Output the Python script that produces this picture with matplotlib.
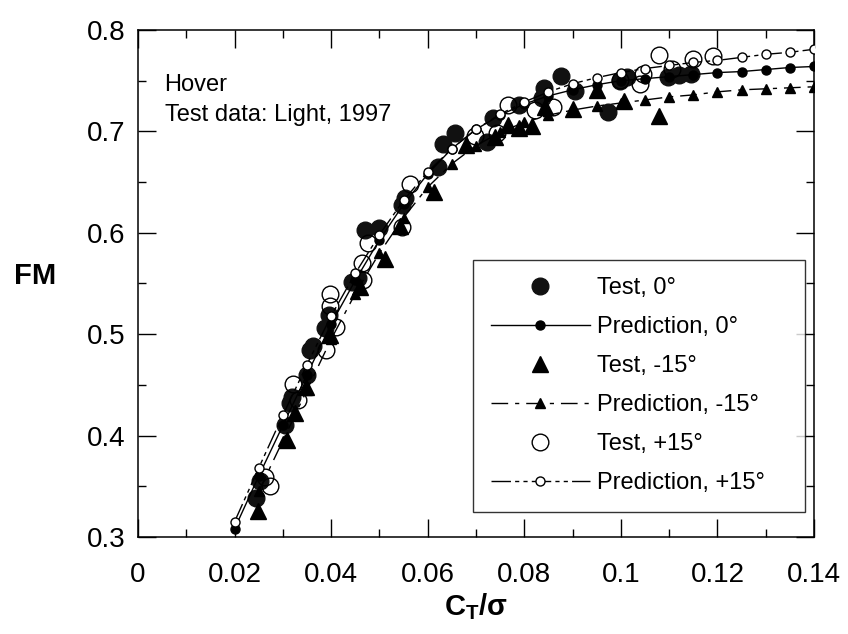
import matplotlib.pyplot as plt
import numpy as np

plt.rcParams['font.family'] = ['Liberation Sans', 'DejaVu Sans']
plt.rcParams['mathtext.fontset'] = 'custom'
plt.rcParams['mathtext.bf'] = 'Liberation Sans:bold'
plt.rcParams['mathtext.rm'] = 'Liberation Sans'

# prediction curves (C_T/sigma, FM)
pred_x = [0.020, 0.025, 0.030, 0.035, 0.040, 0.045, 0.050, 0.055, 0.060, 0.065,
          0.070, 0.075, 0.080, 0.085, 0.090, 0.095, 0.100, 0.105, 0.110, 0.115,
          0.120, 0.125, 0.130, 0.135, 0.140]
pred_0 = [0.308, 0.360, 0.410, 0.460, 0.510, 0.553, 0.593, 0.628, 0.658, 0.683,
          0.702, 0.716, 0.727, 0.735, 0.741, 0.746, 0.750, 0.752, 0.754, 0.756,
          0.758, 0.759, 0.761, 0.763, 0.764]
pred_m15 = [None, 0.345, 0.395, 0.445, 0.495, 0.540, 0.580, 0.615, 0.645, 0.668,
            0.686, 0.699, 0.709, 0.716, 0.721, 0.725, 0.728, 0.731, 0.734, 0.736,
            0.739, 0.741, 0.742, 0.743, 0.744]
pred_p15 = [0.315, 0.368, 0.420, 0.470, 0.518, 0.560, 0.598, 0.632, 0.660, 0.683,
            0.702, 0.717, 0.729, 0.739, 0.747, 0.753, 0.758, 0.762, 0.765, 0.768,
            0.770, 0.773, 0.776, 0.778, 0.781]

# test data
test0_x = [0.0245, 0.0253, 0.0305, 0.0315, 0.0318, 0.0350, 0.0356, 0.0362, 0.0388, 0.0396,
           0.0443, 0.0455, 0.0470, 0.0500, 0.0546, 0.0553, 0.0622, 0.0632, 0.0656, 0.0722,
           0.0735, 0.0790, 0.0836, 0.0840, 0.0877, 0.0905, 0.0973, 0.0998, 0.1012, 0.1098,
           0.1120, 0.1146]
test0_y = [0.338, 0.355, 0.410, 0.432, 0.438, 0.460, 0.484, 0.488, 0.506, 0.519,
           0.551, 0.555, 0.603, 0.605, 0.627, 0.634, 0.665, 0.688, 0.698, 0.690,
           0.713, 0.726, 0.733, 0.743, 0.755, 0.740, 0.719, 0.750, 0.754, 0.754,
           0.756, 0.757]

testm15_x = [0.0249, 0.0308, 0.0325, 0.0349, 0.0397, 0.0460, 0.0511, 0.0542, 0.0613, 0.0680,
             0.0740, 0.0766, 0.0790, 0.0815, 0.0843, 0.0900, 0.0950, 0.1006, 0.1078]
testm15_y = [0.326, 0.396, 0.422, 0.448, 0.499, 0.547, 0.574, 0.607, 0.640, 0.687,
             0.694, 0.706, 0.703, 0.705, 0.724, 0.722, 0.741, 0.730, 0.715]

testp15_x = [0.0263, 0.0273, 0.0321, 0.0331, 0.0390, 0.0397, 0.0397, 0.0411, 0.0463, 0.0466,
             0.0477, 0.0546, 0.0563, 0.0698, 0.0743, 0.0766, 0.0822, 0.0859, 0.0998, 0.1039,
             0.1046, 0.1080, 0.1105, 0.1150, 0.1190]
testp15_y = [0.359, 0.350, 0.451, 0.435, 0.484, 0.540, 0.528, 0.507, 0.570, 0.553,
             0.590, 0.606, 0.648, 0.695, 0.698, 0.726, 0.721, 0.724, 0.751, 0.747,
             0.757, 0.775, 0.762, 0.771, 0.774]

fig = plt.figure(figsize=(8.48, 6.34), dpi=100)
ax = fig.add_axes([0.1627, 0.153, 0.7972, 0.7997])

pm15 = np.array([np.nan if v is None else v for v in pred_m15])

ax.plot(test0_x, test0_y, 'o', color='#111111', ms=12, ls='none', label='Test, 0°', zorder=3)
ax.plot(pred_x, pred_0, '-o', color='black', ms=6.5, lw=1.0, label='Prediction, 0°', zorder=4)
ax.plot(testm15_x, testm15_y, '^', color='black', ms=12, ls='none', label='Test, -15°', zorder=3)
ax.plot(pred_x, pm15, '^', color='black', ms=7, lw=1.0, ls=(0, (12, 5, 3, 5)),
        label='Prediction, -15°', zorder=4)
ax.plot(testp15_x, testp15_y, 'o', mfc='none', mec='black', mew=1.0, ms=12, ls='none',
        label='Test, +15°', zorder=3)
ax.plot(pred_x, pred_p15, 'o', mfc='white', mec='black', mew=1.0, ms=6.5, lw=1.0,
        ls=(0, (14, 3, 3, 3, 3, 3)), color='black', label='Prediction, +15°', zorder=4)

ax.set_xlim(0, 0.14)
ax.set_ylim(0.3, 0.8)
ax.set_xticks([0, 0.02, 0.04, 0.06, 0.08, 0.1, 0.12, 0.14])
ax.set_xticklabels(['0', '0.02', '0.04', '0.06', '0.08', '0.1', '0.12', '0.14'])
ax.set_yticks([0.3, 0.4, 0.5, 0.6, 0.7, 0.8])
ax.set_yticklabels(['0.3', '0.4', '0.5', '0.6', '0.7', '0.8'])
ax.set_xticks(np.arange(0.01, 0.14, 0.02), minor=True)
ax.set_yticks(np.arange(0.35, 0.8, 0.1), minor=True)
ax.tick_params(which='both', direction='in', top=True, right=True, labelsize=20, width=1.0)
ax.tick_params(which='major', length=13)
ax.tick_params(which='minor', length=6)
ax.tick_params(axis='x', pad=18)
ax.tick_params(axis='y', pad=9)
for s in ax.spines.values():
    s.set_linewidth(1.1)

ax.set_xlabel(r'$\mathbf{C_T/\sigma}$', fontsize=21, labelpad=2)
fig.text(0.041, 0.565, 'FM', fontsize=21, fontweight='bold', ha='center', va='center')

ax.text(0.0055, 0.746, 'Hover', fontsize=17, va='center')
ax.text(0.0055, 0.716, 'Test data: Light, 1997', fontsize=17, va='center')

leg = ax.legend(loc='lower left', bbox_to_anchor=(0.4956, 0.0493, 0.491, 0.4), mode='expand',
                fontsize=17, frameon=True, fancybox=False, edgecolor='black', numpoints=1,
                handlelength=4.2, labelspacing=0.72, borderpad=0.75, handletextpad=0.3,
                borderaxespad=0)
leg.get_frame().set_linewidth(1.0)

fig.savefig('out.png', dpi=100)
